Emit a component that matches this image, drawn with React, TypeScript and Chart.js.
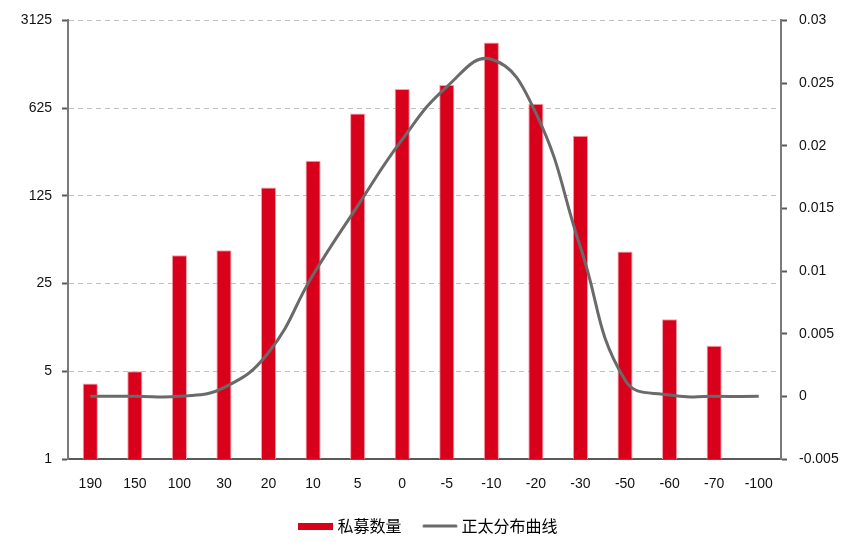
import React, { useEffect, useRef } from "react";
import { Chart, registerables } from "chart.js";

Chart.register(...registerables);

const categories = ["190", "150", "100", "30", "20", "10", "5", "0", "-5", "-10", "-20", "-30", "-50", "-60", "-70", "-100"];
const privateFundCounts: (number | null)[] = [4, 5, 42, 46, 146, 238, 567, 886, 956, 2088, 676, 376, 45, 13, 8, null];
const normalCurve = [0, 0, 0, 0.0007, 0.0035, 0.0097, 0.0152, 0.0205, 0.0247, 0.0269, 0.0226, 0.0119, 0.0013, 0.0001, 0, 0];
const leftTicks = [1, 5, 25, 125, 625, 3125];
const rightTicks = [-0.005, 0, 0.005, 0.01, 0.015, 0.02, 0.025, 0.03];
const legendLabels = ["私募数量", "正太分布曲线"];

const BAR_COLOR = "#d9001b";
const LINE_COLOR = "#6a6a6a";
const TICK_FONT = { family: "'Liberation Sans', Arial, sans-serif", size: 14 };
const LEGEND_FONT = { family: "'Noto Sans CJK SC', 'Noto Sans', sans-serif", size: 16 };

function makeSwatch(w: number, h: number, draw: (ctx: CanvasRenderingContext2D) => void) {
  const c = document.createElement("canvas");
  c.width = w;
  c.height = h;
  const ctx = c.getContext("2d")!;
  draw(ctx);
  return c;
}

export default function App() {
  const canvasRef = useRef<HTMLCanvasElement | null>(null);

  useEffect(() => {
    document.body.style.margin = "0";
    const canvas = canvasRef.current;
    if (!canvas) return;

    const barSwatch = makeSwatch(35, 7, (ctx) => {
      ctx.fillStyle = BAR_COLOR;
      ctx.fillRect(0, 0, 35, 7);
    });
    const lineSwatch = makeSwatch(36, 5, (ctx) => {
      ctx.strokeStyle = LINE_COLOR;
      ctx.lineWidth = 3;
      ctx.lineCap = "round";
      ctx.beginPath();
      ctx.moveTo(2, 2.5);
      ctx.lineTo(34, 2.5);
      ctx.stroke();
    });

    const chart = new Chart(canvas, {
      type: "bar",
      data: {
        labels: categories,
        datasets: [
          {
            type: "bar",
            label: legendLabels[0],
            data: privateFundCounts,
            backgroundColor: BAR_COLOR,
            borderColor: "#f2a2ac",
            borderWidth: 1,
            barPercentage: 0.34,
            categoryPercentage: 1,
            yAxisID: "y",
            order: 2,
          } as any,
          {
            type: "line",
            label: legendLabels[1],
            data: normalCurve,
            borderColor: LINE_COLOR,
            borderWidth: 3,
            pointRadius: 0,
            tension: 0.45,
            fill: false,
            yAxisID: "y1",
            order: 1,
          } as any,
        ],
      },
      options: {
        animation: false,
        responsive: false,
        layout: { padding: { left: 0, right: 0, top: 20, bottom: 9 } },
        plugins: {
          tooltip: { enabled: false },
          legend: {
            position: "bottom",
            labels: {
              usePointStyle: true,
              pointStyleWidth: 27,
              padding: 25,
              color: "#000",
              font: LEGEND_FONT,
              generateLabels: () => [
                {
                  text: legendLabels[0],
                  pointStyle: barSwatch as any,
                  fillStyle: BAR_COLOR,
                  strokeStyle: "transparent",
                  lineWidth: 0,
                  hidden: false,
                  datasetIndex: 0,
                  fontColor: "#000",
                },
                {
                  text: legendLabels[1],
                  pointStyle: lineSwatch as any,
                  fillStyle: LINE_COLOR,
                  strokeStyle: "transparent",
                  lineWidth: 0,
                  hidden: false,
                  datasetIndex: 1,
                  fontColor: "#000",
                },
              ],
            },
          },
        },
        scales: {
          x: {
            grid: { display: false },
            border: { display: true, color: "#595959", width: 2 },
            ticks: { padding: 9, font: TICK_FONT, color: "#111", maxRotation: 0, autoSkip: false },
            afterFit: (s: any) => {
              s.height = 34;
            },
          },
          y: {
            type: "logarithmic",
            position: "left",
            min: 1,
            max: 3125,
            afterBuildTicks: (s: any) => {
              s.ticks = leftTicks.map((v) => ({ value: v }));
            },
            ticks: {
              padding: 10,
              font: TICK_FONT,
              color: "#111",
              autoSkip: false,
              callback: (v: any) => String(v),
            },
            grid: {
              color: "#c0c0c0",
              lineWidth: 1,
              tickLength: 6,
              tickColor: "#595959",
              tickWidth: 2,
            },
            border: { display: true, color: "#7a7a7a", width: 2, dash: [5, 4] },
            afterFit: (s: any) => {
              s.width = 68;
            },
          },
          y1: {
            type: "linear",
            position: "right",
            min: -0.005,
            max: 0.03,
            afterBuildTicks: (s: any) => {
              s.ticks = rightTicks.map((v) => ({ value: v }));
            },
            ticks: {
              padding: 12,
              font: TICK_FONT,
              color: "#111",
              autoSkip: false,
              callback: (v: any) => String(Number(Number(v).toFixed(4))),
            },
            grid: {
              drawOnChartArea: false,
              tickLength: 6,
              tickColor: "#595959",
              tickWidth: 2,
            },
            border: { display: true, color: "#7a7a7a", width: 2 },
            afterFit: (s: any) => {
              s.width = 79;
            },
          },
        },
      } as any,
    });

    return () => {
      chart.destroy();
    };
  }, []);

  return (
    <div style={{ width: 860, height: 553, background: "#fff" }}>
      <canvas ref={canvasRef} width={860} height={553} style={{ display: "block" }} />
    </div>
  );
}
